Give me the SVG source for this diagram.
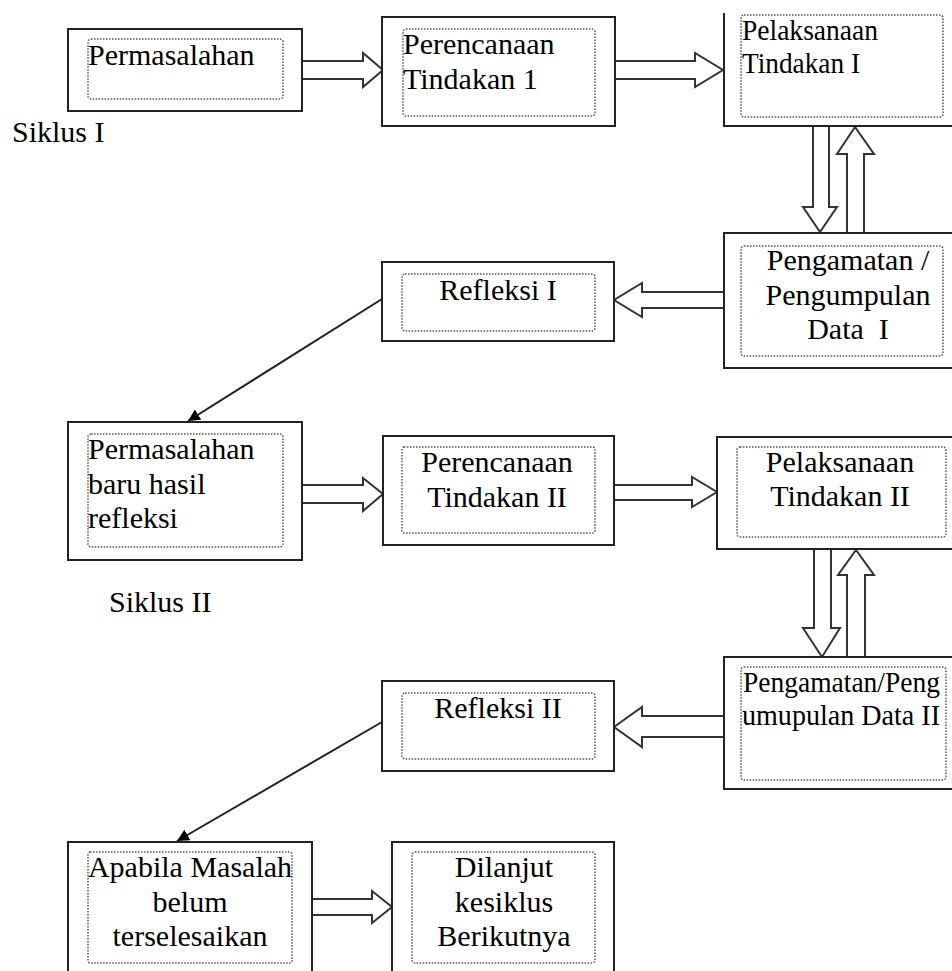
<svg xmlns="http://www.w3.org/2000/svg" width="952" height="971" viewBox="0 0 952 971">
<style>
.box{fill:#fff;stroke:#222;stroke-width:2}
.inner{fill:none;stroke:#555;stroke-width:1.5;stroke-dasharray:1.5 1.5}
.barrow{fill:#fff;stroke:#333;stroke-width:2;stroke-linejoin:miter}
.line{stroke:#222;stroke-width:2;fill:none}
text{font-family:"Liberation Serif","Times New Roman",serif;font-size:30px;fill:#000}
.c{text-anchor:middle}
</style>
<defs>
<marker id="tri" viewBox="0 0 10 10" refX="10" refY="5" markerWidth="6" markerHeight="6" orient="auto" markerUnits="strokeWidth">
<path d="M0,0 L10,5 L0,10 z" fill="#000"/>
</marker>
</defs>
<rect width="952" height="971" fill="#fff"/>

<g id="connectors">
<path class="barrow" d="M302,61 H363 V53 L383,70 L363,87 V79 H302"/>
<path class="barrow" d="M615,61 H695 V53 L723,70 L695,87 V79 H615"/>
<path class="barrow" d="M813,126 V207 H803 L820,232 L837,207 H829 V126"/>
<path class="barrow" d="M847,233 V154 H837 L855,127 L874,154 H864 V233"/>
<path class="barrow" d="M724,292 H642 V283 L614,300 L642,317 V308 H724"/>
<line class="line" x1="382" y1="299" x2="188" y2="421" marker-end="url(#tri)"/>
<path class="barrow" d="M302,485 H363 V478 L383,494 L363,511 V503 H302"/>
<path class="barrow" d="M614,485 H692 V477 L717,492 L692,507 V500 H614"/>
<path class="barrow" d="M814,549 V628 H803 L822,657 L840,628 H831 V549"/>
<path class="barrow" d="M847,657 V575 H838 L856,550 L874,575 H865 V657"/>
<path class="barrow" d="M724,716 H642 V707 L614,727 L642,747 V737 H724"/>
<line class="line" x1="382" y1="722" x2="177" y2="841" marker-end="url(#tri)"/>
<path class="barrow" d="M312,899 H372 V891 L392,907 L372,923 V915 H312"/>
</g>

<g id="permasalahan">
<rect class="box" x="68" y="29" width="234" height="82"/>
<rect class="inner" x="88" y="39" width="195" height="60" rx="3"/>
<text x="88" y="65">Permasalahan</text>
</g>

<g id="siklus1"><text x="12" y="142">Siklus I</text></g>

<g id="perencanaan1">
<rect class="box" x="382" y="17" width="233" height="109"/>
<rect class="inner" x="403" y="29" width="192" height="87" rx="3"/>
<text x="403" y="54">Perencanaan</text>
<text x="403" y="89">Tindakan 1</text>
</g>

<g id="pelaksanaan1">
<path d="M724,13 V126 H952" fill="#fff" stroke="#222" stroke-width="2"/>
<rect class="inner" x="741" y="15" width="202" height="102" rx="3"/>
<text x="742" y="40" textLength="136" lengthAdjust="spacingAndGlyphs">Pelaksanaan</text>
<text x="742" y="73" textLength="118" lengthAdjust="spacingAndGlyphs">Tindakan I</text>
</g>

<g id="pengamatan1">
<rect class="box" x="724" y="233" width="240" height="135"/>
<rect class="inner" x="741" y="246" width="202" height="110" rx="3"/>
<text class="c" x="848" y="270">Pengamatan /</text>
<text class="c" x="848" y="305">Pengumpulan</text>
<text class="c" x="848" y="339" xml:space="preserve">Data  I</text>
</g>

<g id="refleksi1">
<rect class="box" x="382" y="262" width="232" height="79"/>
<rect class="inner" x="402" y="274" width="193" height="57" rx="3"/>
<text class="c" x="498" y="300">Refleksi I</text>
</g>

<g id="permasalahan-baru">
<rect class="box" x="68" y="422" width="234" height="138"/>
<rect class="inner" x="88" y="434" width="195" height="113" rx="3"/>
<text x="88" y="459">Permasalahan</text>
<text x="88" y="494">baru hasil</text>
<text x="88" y="528">refleksi</text>
</g>

<g id="siklus2"><text x="109" y="612">Siklus II</text></g>

<g id="perencanaan2">
<rect class="box" x="383" y="436" width="231" height="109"/>
<rect class="inner" x="402" y="447" width="193" height="86" rx="2"/>
<text class="c" x="497" y="472">Perencanaan</text>
<text class="c" x="497" y="507">Tindakan II</text>
</g>

<g id="pelaksanaan2">
<rect class="box" x="717" y="437" width="250" height="112"/>
<rect class="inner" x="737" y="447" width="209" height="90" rx="3"/>
<text class="c" x="840" y="472">Pelaksanaan</text>
<text class="c" x="840" y="506">Tindakan II</text>
</g>

<g id="pengamatan2">
<rect class="box" x="724" y="657" width="240" height="132"/>
<rect class="inner" x="741" y="667" width="205" height="113" rx="3"/>
<text x="743" y="692" textLength="197" lengthAdjust="spacingAndGlyphs">Pengamatan/Peng</text>
<text x="742" y="725" textLength="198" lengthAdjust="spacingAndGlyphs">umupulan Data II</text>
</g>

<g id="refleksi2">
<rect class="box" x="382" y="681" width="232" height="90"/>
<rect class="inner" x="402" y="693" width="193" height="66" rx="3"/>
<text class="c" x="498" y="718">Refleksi II</text>
</g>

<g id="apabila">
<rect class="box" x="68" y="842" width="244" height="140"/>
<rect class="inner" x="88" y="852" width="204" height="111" rx="2"/>
<text class="c" x="190" y="877">Apabila Masalah</text>
<text class="c" x="190" y="912">belum</text>
<text class="c" x="190" y="946">terselesaikan</text>
</g>

<g id="dilanjut">
<rect class="box" x="392" y="842" width="222" height="140"/>
<rect class="inner" x="412" y="852" width="183" height="111" rx="3"/>
<text class="c" x="504" y="877">Dilanjut</text>
<text class="c" x="504" y="912">kesiklus</text>
<text class="c" x="504" y="946">Berikutnya</text>
</g>
</svg>
